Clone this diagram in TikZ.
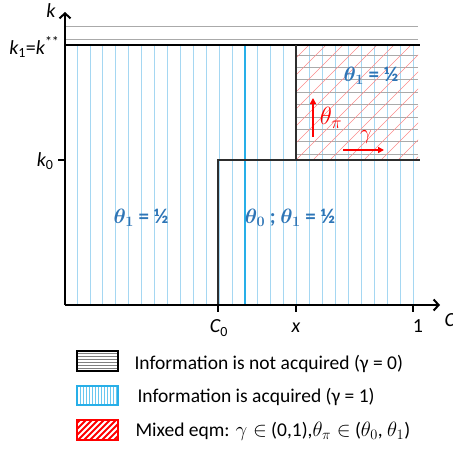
\documentclass[tikz,border=0pt]{standalone}
\usepackage{fontspec}
\setmainfont{Carlito}
\usetikzlibrary{arrows.meta}
\definecolor{hblue}{RGB}{165,215,242}
\definecolor{sblue}{RGB}{40,175,232}
\definecolor{tblue}{RGB}{46,117,182}
\definecolor{dgray}{RGB}{45,45,45}
\definecolor{lgray}{RGB}{170,170,170}
\definecolor{hred}{RGB}{250,140,140}
\tikzset{
  axis/.style={line width=2pt,-{Straight Barb[length=5pt,width=11pt,line width=2pt]}},
  tick/.style={line width=1.4pt},
  region/.style={tblue,font=\fontsize{21}{25}\selectfont\bfseries\boldmath},
  axlab/.style={font=\fontsize{20}{24}\selectfont},
  leglab/.style={font=\fontsize{19.5}{23}\selectfont,anchor=west},
  redarrow/.style={red,line width=2pt,-{Triangle[length=6pt,width=6pt]}},
}
\begin{document}
\begin{tikzpicture}[x=1pt,y=-1pt]
\useasboundingbox (0,0) rectangle (453,450);
% blue vertical hatch
\foreach \i in {0,...,26} {
  \draw[hblue,line width=0.8pt] ({77+12.92*\i},45) -- ({77+12.92*\i},305);
}
\draw[sblue,line width=1.2pt] (245,45) -- (245,305);
% mixed region hatch
\begin{scope}
  \clip (296,45) rectangle (418,160);
  \foreach \y in {55,67.4,79.8,92.2,104.6,117,129.4,141.8,154.2} {
    \draw[lgray,line width=0.8pt] (296,\y) -- (418,\y);
  }
  \foreach \i in {-8,...,8} {
    \draw[hred,line width=0.5pt] ({296+17*\i},160) -- ++(125,-125);
  }
\end{scope}
% top gray lines
\draw[lgray,line width=0.8pt] (65,26) -- (418,26);
\draw[lgray,line width=0.8pt] (65,39) -- (418,39);
% coordinates
\coordinate (O) at (65,305);
\coordinate (Ytop) at (65,12);
\coordinate (Xend) at (440,305);
\coordinate (K1l) at (65,45);
\coordinate (K1r) at (420,45);
\coordinate (C0b) at (218,305);
\coordinate (C0t) at (218,160);
\coordinate (K0r) at (420,160);
\coordinate (Xb) at (296,160);
\coordinate (Xt) at (296,45);
% k1 line
\draw[line width=2.5pt] (K1l) -- (K1r);
% boundary
\draw[dgray,line width=1.6pt] (C0b) -- (C0t) -- (K0r);
\draw[dgray,line width=1.6pt] (Xb) -- (Xt);
% axes
\draw[axis] (O) -- (Ytop);
\draw[axis] (O) -- (Xend);
% ticks
\draw[tick] (58,160) -- (65,160);
\draw[tick] (218,305) -- (218,312);
\draw[tick] (296,305) -- (296,312);
\draw[tick] (413,305) -- (413,312);
% axis labels
\node[axlab] (lk) at (51,11) {\itshape k};
\node[axlab,anchor=east] (lk1) at (63,47) {\itshape k\textsubscript{\upshape 1}\upshape=\itshape k\textsuperscript{\upshape **}};
\node[axlab,anchor=east] (lk0) at (57,161) {\itshape k\textsubscript{\upshape 0}};
\node[axlab] (lc0) at (219,328) {\itshape C\textsubscript{\upshape 0}};
\node[axlab] (lx) at (296,328) {\itshape x};
\node[axlab] (l1) at (418,326) {1};
\node[axlab,anchor=west] (lc) at (441,320) {\itshape C};
% region labels
\node[region] (r1) at (141,218) {$\theta_1$ = ½};
\node[region] (r2) at (290,218) {$\theta_0$ ; $\theta_1$ = ½};
\node[region] (r3) at (371,76) {$\theta_1$ = ½};
% red arrows
\coordinate (tpa) at (313,137);
\coordinate (tpb) at (313,98);
\coordinate (ga) at (343,150);
\coordinate (gb) at (384,150);
\draw[redarrow] (tpa) -- (tpb);
\draw[redarrow] (ga) -- (gb);
\node[red,font=\fontsize{25}{30}\selectfont] (ltp) at (331,118) {$\theta_\pi$};
\node[red,font=\fontsize{20}{24}\selectfont] (lg) at (366,137) {$\gamma$};
% legend
\begin{scope}
  \clip (77,351) rectangle (118,371);
  \foreach \y in {353,356,...,371} {\draw[gray,line width=1pt] (77,\y) -- (118,\y);}
\end{scope}
\draw[line width=2pt] (77,351) rectangle (118,371);
\begin{scope}
  \clip (77,386) rectangle (118,405);
  \foreach \x in {80,83,...,118} {\draw[sblue!70,line width=1pt] (\x,386) -- (\x,405);}
\end{scope}
\draw[sblue,line width=2pt] (77,386) rectangle (118,405);
\begin{scope}
  \clip (77,420) rectangle (118,440);
  \foreach \x in {60,66,...,130} {\draw[red,line width=1.8pt] (\x,440) -- ++(20,-20);}
\end{scope}
\draw[red,line width=2pt] (77,420) rectangle (118,440);
\node[leglab] (t1) at (131,364) {Information is not acquired (γ = 0)};
\node[leglab] (t2) at (134,397) {Information is acquired (γ = 1)};
\node[leglab] (t3) at (132,431) {Mixed eqm: $\gamma\in$ (0,1),$\theta_\pi\in$ ($\theta_0$, $\theta_1$)};
\end{tikzpicture}
\end{document}
